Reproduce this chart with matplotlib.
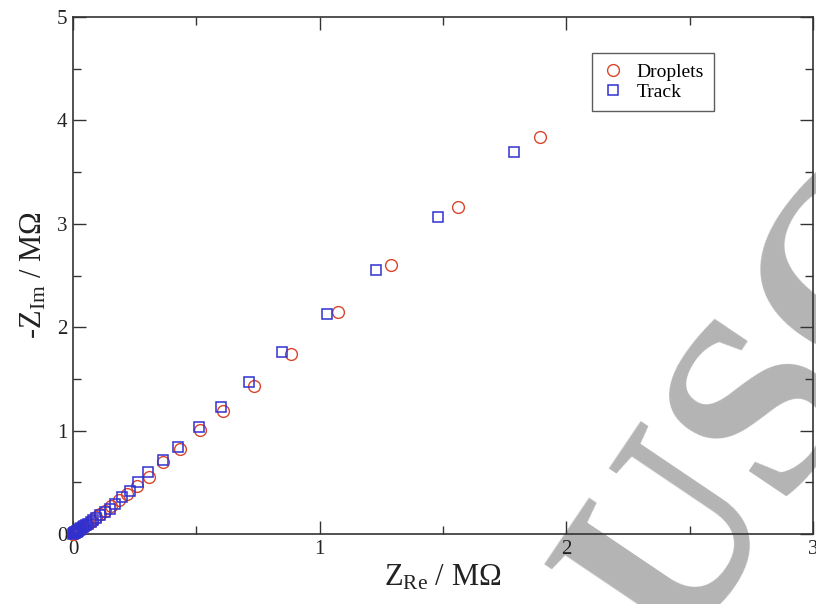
import matplotlib
matplotlib.use("Agg")
import matplotlib.pyplot as plt
from matplotlib.ticker import MultipleLocator

plt.rcParams['font.family'] = ['Liberation Serif', 'DejaVu Serif']
plt.rcParams['mathtext.fontset'] = 'custom'
plt.rcParams['mathtext.rm'] = 'Liberation Serif'
plt.rcParams['mathtext.it'] = 'Liberation Serif:italic'

# Droplets (red circles)
drop_re = [1.893, 1.561, 1.289, 1.074, 0.884, 0.734, 0.608, 0.515, 0.434, 0.365, 0.308,
           0.26, 0.22, 0.185, 0.155, 0.13, 0.11, 0.092, 0.077, 0.064, 0.053, 0.044,
           0.036, 0.030, 0.024, 0.019, 0.015, 0.011, 0.008, 0.005, 0.002, 0.0]
drop_im = [3.84, 3.16, 2.60, 2.15, 1.74, 1.43, 1.19, 1.01, 0.82, 0.70, 0.55,
           0.46, 0.39, 0.33, 0.27, 0.225, 0.19, 0.16, 0.13, 0.11, 0.09, 0.075,
           0.062, 0.050, 0.040, 0.032, 0.025, 0.018, 0.013, 0.008, 0.003, 0.0]

# Track (blue squares)
track_re = [1.788, 1.480, 1.228, 1.030, 0.847, 0.713, 0.600, 0.511, 0.426, 0.365, 0.304,
            0.263, 0.231, 0.199, 0.170, 0.150, 0.128, 0.110, 0.095, 0.082, 0.071, 0.061,
            0.053, 0.046, 0.040, 0.034, 0.029, 0.025, 0.021, 0.018, 0.015, 0.012, 0.010,
            0.008, 0.006, 0.004, 0.002]
track_im = [3.69, 3.07, 2.55, 2.13, 1.76, 1.47, 1.23, 1.03, 0.84, 0.72, 0.60,
            0.50, 0.42, 0.36, 0.29, 0.24, 0.21, 0.18, 0.155, 0.135, 0.115, 0.10,
            0.085, 0.073, 0.063, 0.054, 0.046, 0.039, 0.033, 0.028, 0.023, 0.019, 0.015,
            0.012, 0.009, 0.006, 0.003]

fig = plt.figure(figsize=(8.16, 6.04), dpi=100)
ax = fig.add_axes([73/816, 70/604, 740/816, 517/604])

ax.plot(drop_re, drop_im, linestyle='none', marker='o', markersize=8.5,
        markerfacecolor='none', markeredgecolor='#d9452b', markeredgewidth=1.0,
        label='Droplets', clip_on=False, zorder=3)
ax.plot(track_re, track_im, linestyle='none', marker='s', markersize=7,
        markerfacecolor='none', markeredgecolor='#3030d0', markeredgewidth=1.1,
        label='Track', clip_on=False, zorder=4)

ax.set_xlim(0, 3)
ax.set_ylim(0, 5)
ax.xaxis.set_major_locator(MultipleLocator(1))
ax.xaxis.set_minor_locator(MultipleLocator(0.5))
ax.yaxis.set_major_locator(MultipleLocator(1))
ax.yaxis.set_minor_locator(MultipleLocator(0.5))
ax.tick_params(which='both', direction='in', top=True, right=True, width=1.0, colors='#333333')
ax.tick_params(which='major', length=9.5, labelsize=15, labelcolor='#222222', pad=4)
ax.tick_params(which='minor', length=5.5)
for s in ax.spines.values():
    s.set_linewidth(1.2)
    s.set_color('#333333')

ax.set_xlabel(r'Z$_{\mathrm{Re}}$ / M$\Omega$', fontsize=22, color='#222222', labelpad=3)
ax.set_ylabel(r'-Z$_{\mathrm{Im}}$ / M$\Omega$', fontsize=22, color='#222222', labelpad=6)

leg = ax.legend(loc='upper left', bbox_to_anchor=(0.701, 0.930), borderaxespad=0,
                fancybox=False, frameon=True, fontsize=14, handletextpad=0.6,
                handlelength=1.2, borderpad=0.5, labelspacing=0.15)
leg.get_frame().set_edgecolor('#333333')
leg.get_frame().set_linewidth(1.0)

# watermark, drawn beneath the axis artists (zorder 1.5) so tick labels stay readable
ax.text(0.945, 0.32, 'USC', transform=fig.transFigure, rotation=56, rotation_mode='anchor',
        ha='center', va='center', fontsize=185, color='#b4b4b4', fontweight='bold',
        family='Liberation Serif', zorder=1.2, clip_on=False)

fig.savefig('out.png', dpi=100)
